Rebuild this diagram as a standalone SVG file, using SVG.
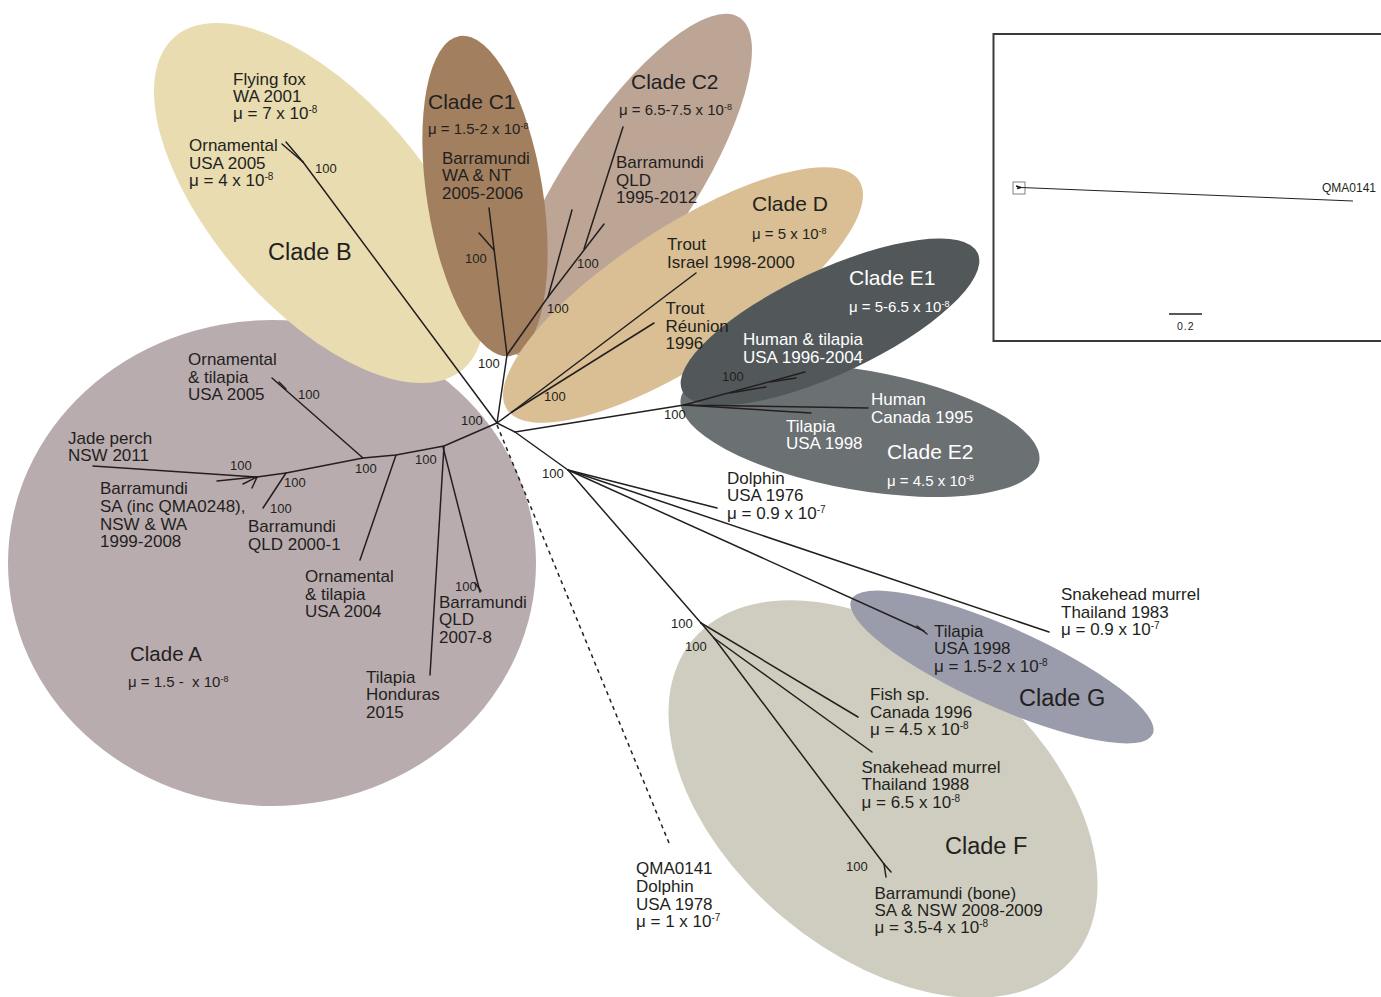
<svg xmlns="http://www.w3.org/2000/svg" width="1381" height="997" viewBox="0 0 1381 997">
<style>
text{font-family:"Liberation Sans",Arial,Helvetica,sans-serif;fill:#231f20}
.lf{font-size:17px}
.mu{font-size:15px}
.ct{font-size:21px}
.cb{font-size:23.5px}
.bs{font-size:13px}
.w{fill:#ffffff}
.s{font-size:10px}
.s9{font-size:9px}
.br{stroke:#231f20;stroke-width:1.5;fill:none;stroke-linecap:round}
</style>
<rect width="1381" height="997" fill="#ffffff"/>
<g id="clade-shapes">
<ellipse id="shape-A" cx="272" cy="563" rx="264" ry="243" fill="#b9acaf"/>
<ellipse id="shape-B" cx="319" cy="203" rx="220" ry="106" transform="rotate(49 319 203)" fill="#e8dcb0"/>
<ellipse id="shape-C2" cx="628" cy="186" rx="202" ry="65" transform="rotate(-56.5 628 186)" fill="#bda596"/>
<ellipse id="shape-C1" cx="485" cy="196" rx="58" ry="162" transform="rotate(-9 485 196)" fill="#a2805f"/>
<ellipse id="shape-D" cx="683" cy="295" rx="210" ry="68" transform="rotate(-33 683 295)" fill="#d9bf93"/>
<ellipse id="shape-E2" cx="860" cy="430" rx="182" ry="60" transform="rotate(10 860 430)" fill="#6b7073"/>
<ellipse id="shape-E1" cx="830" cy="322" rx="163" ry="52" transform="rotate(-25 830 322)" fill="#52585a"/>
<ellipse id="shape-F" cx="883" cy="799" rx="248" ry="155" transform="rotate(40 883 799)" fill="#cfcdbf"/>
<ellipse id="shape-G" cx="1002" cy="667" rx="165" ry="40" transform="rotate(24 1002 667)" fill="#9a9cab"/>
</g>
<g id="connectors" class="br">
<polyline points="497,423 444,446 396,455 363,458 286,473 257,477 93,466"/>
<line x1="257" y1="477" x2="217" y2="481"/>
<line x1="257" y1="477" x2="243" y2="484"/>
<line x1="257" y1="477" x2="252" y2="488"/>
<line x1="286" y1="473" x2="263" y2="508"/>
<line x1="363" y1="458" x2="272" y2="378"/>
<line x1="286" y1="389" x2="279" y2="382"/>
<line x1="396" y1="455" x2="360" y2="560"/>
<line x1="444" y1="446" x2="430" y2="675"/>
<line x1="443" y1="447" x2="480" y2="592"/>
<line x1="475" y1="583" x2="481" y2="591"/>
<line x1="497" y1="423" x2="303" y2="162"/>
<line x1="303" y1="162" x2="282" y2="144"/>
<line x1="303" y1="162" x2="286" y2="142"/>
<line x1="497" y1="423" x2="507" y2="355"/>
<line x1="507" y1="355" x2="489" y2="208"/>
<line x1="494" y1="250" x2="479" y2="233"/>
<line x1="507" y1="355" x2="548" y2="297"/>
<line x1="548" y1="297" x2="572" y2="210"/>
<line x1="548" y1="297" x2="604" y2="224"/>
<line x1="584" y1="249" x2="623" y2="127"/>
<line x1="497" y1="423" x2="512" y2="412"/>
<line x1="512" y1="412" x2="696" y2="273"/>
<line x1="512" y1="412" x2="654" y2="323"/>
<line x1="497" y1="423" x2="515" y2="432"/>
<line x1="515" y1="432" x2="684" y2="405"/>
<line x1="684" y1="405" x2="805" y2="372"/>
<line x1="730" y1="393" x2="766" y2="387"/>
<line x1="770" y1="382" x2="796" y2="378"/>
<line x1="684" y1="405" x2="868" y2="408"/>
<line x1="684" y1="405" x2="811" y2="413"/>
<line x1="515" y1="432" x2="568" y2="470"/>
<line x1="568" y1="470" x2="717" y2="508"/>
<line x1="568" y1="470" x2="1049" y2="632"/>
<line x1="568" y1="470" x2="924" y2="631"/>
<line x1="917" y1="626" x2="927" y2="634"/>
<line x1="568" y1="470" x2="701" y2="623"/>
<line x1="701" y1="623" x2="858" y2="717"/>
<line x1="701" y1="623" x2="714" y2="638"/>
<line x1="714" y1="638" x2="872" y2="752"/>
<line x1="714" y1="638" x2="884" y2="864"/>
<line x1="884" y1="864" x2="886" y2="877"/>
<line x1="884" y1="864" x2="891" y2="872"/>
<line x1="497" y1="425" x2="669" y2="843" stroke-dasharray="4 4" stroke-linecap="butt"/>
</g>
<g id="bootstrap" class="bs">
<text x="315" y="173">100</text>
<text x="465" y="263">100</text>
<text x="577" y="268">100</text>
<text x="547" y="313">100</text>
<text x="478" y="368">100</text>
<text x="461" y="425">100</text>
<text x="415" y="464">100</text>
<text x="355" y="473">100</text>
<text x="230" y="470">100</text>
<text x="284" y="487">100</text>
<text x="270" y="513">100</text>
<text x="455" y="591">100</text>
<text x="298" y="399">100</text>
<text x="544" y="401">100</text>
<text x="722" y="381">100</text>
<text x="664" y="419">100</text>
<text x="542" y="478">100</text>
<text x="671" y="628">100</text>
<text x="685" y="651">100</text>
<text x="846" y="871">100</text>
</g>
<g id="clade-A">
<text class="lf" x="188" y="365">Ornamental</text>
<text class="lf" x="188" y="383">&amp; tilapia</text>
<text class="lf" x="188" y="400">USA 2005</text>
<text class="lf" x="68" y="443.5">Jade perch</text>
<text class="lf" x="68" y="461">NSW 2011</text>
<text class="lf" x="100" y="494">Barramundi</text>
<text class="lf" x="100" y="512">SA (inc QMA0248),</text>
<text class="lf" x="100" y="529.5">NSW &amp; WA</text>
<text class="lf" x="100" y="547">1999-2008</text>
<text class="lf" x="248" y="532">Barramundi</text>
<text class="lf" x="248" y="549.5">QLD 2000-1</text>
<text class="lf" x="305" y="582">Ornamental</text>
<text class="lf" x="305" y="599.5">&amp; tilapia</text>
<text class="lf" x="305" y="617">USA 2004</text>
<text class="lf" x="439" y="607.5">Barramundi</text>
<text class="lf" x="439" y="625">QLD</text>
<text class="lf" x="439" y="642.5">2007-8</text>
<text class="lf" x="366" y="683">Tilapia</text>
<text class="lf" x="366" y="700">Honduras</text>
<text class="lf" x="366" y="718">2015</text>
<text x="130" y="661" font-size="20.5">Clade A</text>
<text class="mu" x="128" y="687">μ = 1.5 -&#160; x 10<tspan class="s9" dy="-5">-8</tspan></text>
</g>
<g id="clade-B">
<text class="lf" x="233" y="84.5">Flying fox</text>
<text class="lf" x="233" y="102">WA 2001</text>
<text class="lf" x="233" y="119">μ = 7 x 10<tspan class="s" dy="-6">-8</tspan></text>
<text class="lf" x="189" y="151">Ornamental</text>
<text class="lf" x="189" y="168.5">USA 2005</text>
<text class="lf" x="189" y="186">μ = 4 x 10<tspan class="s" dy="-6">-8</tspan></text>
<text class="cb" x="268" y="260">Clade B</text>
</g>
<g id="clade-C1">
<text class="ct" x="428" y="109">Clade C1</text>
<text class="mu" x="428" y="134">μ = 1.5-2 x 10<tspan class="s9" dy="-5">-8</tspan></text>
<text class="lf" x="442" y="163.5">Barramundi</text>
<text class="lf" x="442" y="181">WA &amp; NT</text>
<text class="lf" x="442" y="198.5">2005-2006</text>
</g>
<g id="clade-C2">
<text class="ct" x="631" y="89">Clade C2</text>
<text class="mu" x="619" y="115">μ = 6.5-7.5 x 10<tspan class="s9" dy="-5">-8</tspan></text>
<text class="lf" x="616" y="168">Barramundi</text>
<text class="lf" x="616" y="185.5">QLD</text>
<text class="lf" x="616" y="203">1995-2012</text>
</g>
<g id="clade-D">
<text class="ct" x="752" y="211">Clade D</text>
<text class="mu" x="752" y="239">μ = 5 x 10<tspan class="s9" dy="-5">-8</tspan></text>
<text class="lf" x="667" y="250">Trout</text>
<text class="lf" x="667" y="267.5">Israel 1998-2000</text>
<text class="lf" x="665.5" y="314">Trout</text>
<text class="lf" x="665.5" y="331.5">Réunion</text>
<text class="lf" x="665.5" y="349">1996</text>
</g>
<g id="clade-E1">
<text class="ct w" x="849" y="285">Clade E1</text>
<text class="mu w" x="849" y="311.5">μ = 5-6.5 x 10<tspan class="s9 w" dy="-5">-8</tspan></text>
<text class="lf w" x="743" y="345">Human &amp; tilapia</text>
<text class="lf w" x="743" y="362.5">USA 1996-2004</text>
</g>
<g id="clade-E2">
<text class="lf w" x="871" y="405">Human</text>
<text class="lf w" x="871" y="422.5">Canada 1995</text>
<text class="lf w" x="786" y="431.5">Tilapia</text>
<text class="lf w" x="786" y="448.5">USA 1998</text>
<text class="ct w" x="887" y="459">Clade E2</text>
<text class="mu w" x="887" y="485.5">μ = 4.5 x 10<tspan class="s9 w" dy="-5">-8</tspan></text>
</g>
<g id="leaf-dolphin-1976">
<text class="lf" x="727" y="483.5">Dolphin</text>
<text class="lf" x="727" y="501">USA 1976</text>
<text class="lf" x="727" y="519">μ = 0.9 x 10<tspan class="s" dy="-6">-7</tspan></text>
</g>
<g id="leaf-snakehead-1983">
<text class="lf" x="1061" y="600">Snakehead murrel</text>
<text class="lf" x="1061" y="617.5">Thailand 1983</text>
<text class="lf" x="1061" y="635">μ = 0.9 x 10<tspan class="s" dy="-6">-7</tspan></text>
</g>
<g id="clade-G">
<text class="lf" x="934" y="637">Tilapia</text>
<text class="lf" x="934" y="654">USA 1998</text>
<text class="lf" x="934" y="672">μ = 1.5-2 x 10<tspan class="s" dy="-6">-8</tspan></text>
<text class="cb" x="1019" y="706">Clade G</text>
</g>
<g id="clade-F">
<text class="lf" x="870" y="700">Fish sp.</text>
<text class="lf" x="870" y="717.5">Canada 1996</text>
<text class="lf" x="870" y="735">μ = 4.5 x 10<tspan class="s" dy="-6">-8</tspan></text>
<text class="lf" x="861.5" y="773">Snakehead murrel</text>
<text class="lf" x="861.5" y="790">Thailand 1988</text>
<text class="lf" x="861.5" y="808">μ = 6.5 x 10<tspan class="s" dy="-6">-8</tspan></text>
<text class="cb" x="945" y="854">Clade F</text>
<text class="lf" x="874.5" y="898.5">Barramundi (bone)</text>
<text class="lf" x="874.5" y="915.5">SA &amp; NSW 2008-2009</text>
<text class="lf" x="874.5" y="933">μ = 3.5-4 x 10<tspan class="s" dy="-6">-8</tspan></text>
</g>
<g id="leaf-qma0141">
<text class="lf" x="636" y="874">QMA0141</text>
<text class="lf" x="636" y="892">Dolphin</text>
<text class="lf" x="636" y="909.5">USA 1978</text>
<text class="lf" x="636" y="927">μ = 1 x 10<tspan class="s" dy="-6">-7</tspan></text>
</g>
<g id="inset">
<rect x="993.5" y="34" width="400" height="307" fill="#ffffff" stroke="#3a3a3a" stroke-width="2"/>
<rect x="1013" y="182" width="12" height="12" fill="none" stroke="#808080" stroke-width="1"/>
<path d="M1016,186 L1021,187.5 M1017,188.5 L1021,187.5" stroke="#231f20" stroke-width="1.5" fill="none"/>
<line x1="1021" y1="187.5" x2="1353" y2="201" stroke="#231f20" stroke-width="1"/>
<text x="1322" y="192" font-size="12">QMA0141</text>
<line x1="1169" y1="314" x2="1202" y2="314" stroke="#231f20" stroke-width="1.5"/>
<text x="1177" y="330" font-size="10.5" letter-spacing="1">0.2</text>
</g>
</svg>
